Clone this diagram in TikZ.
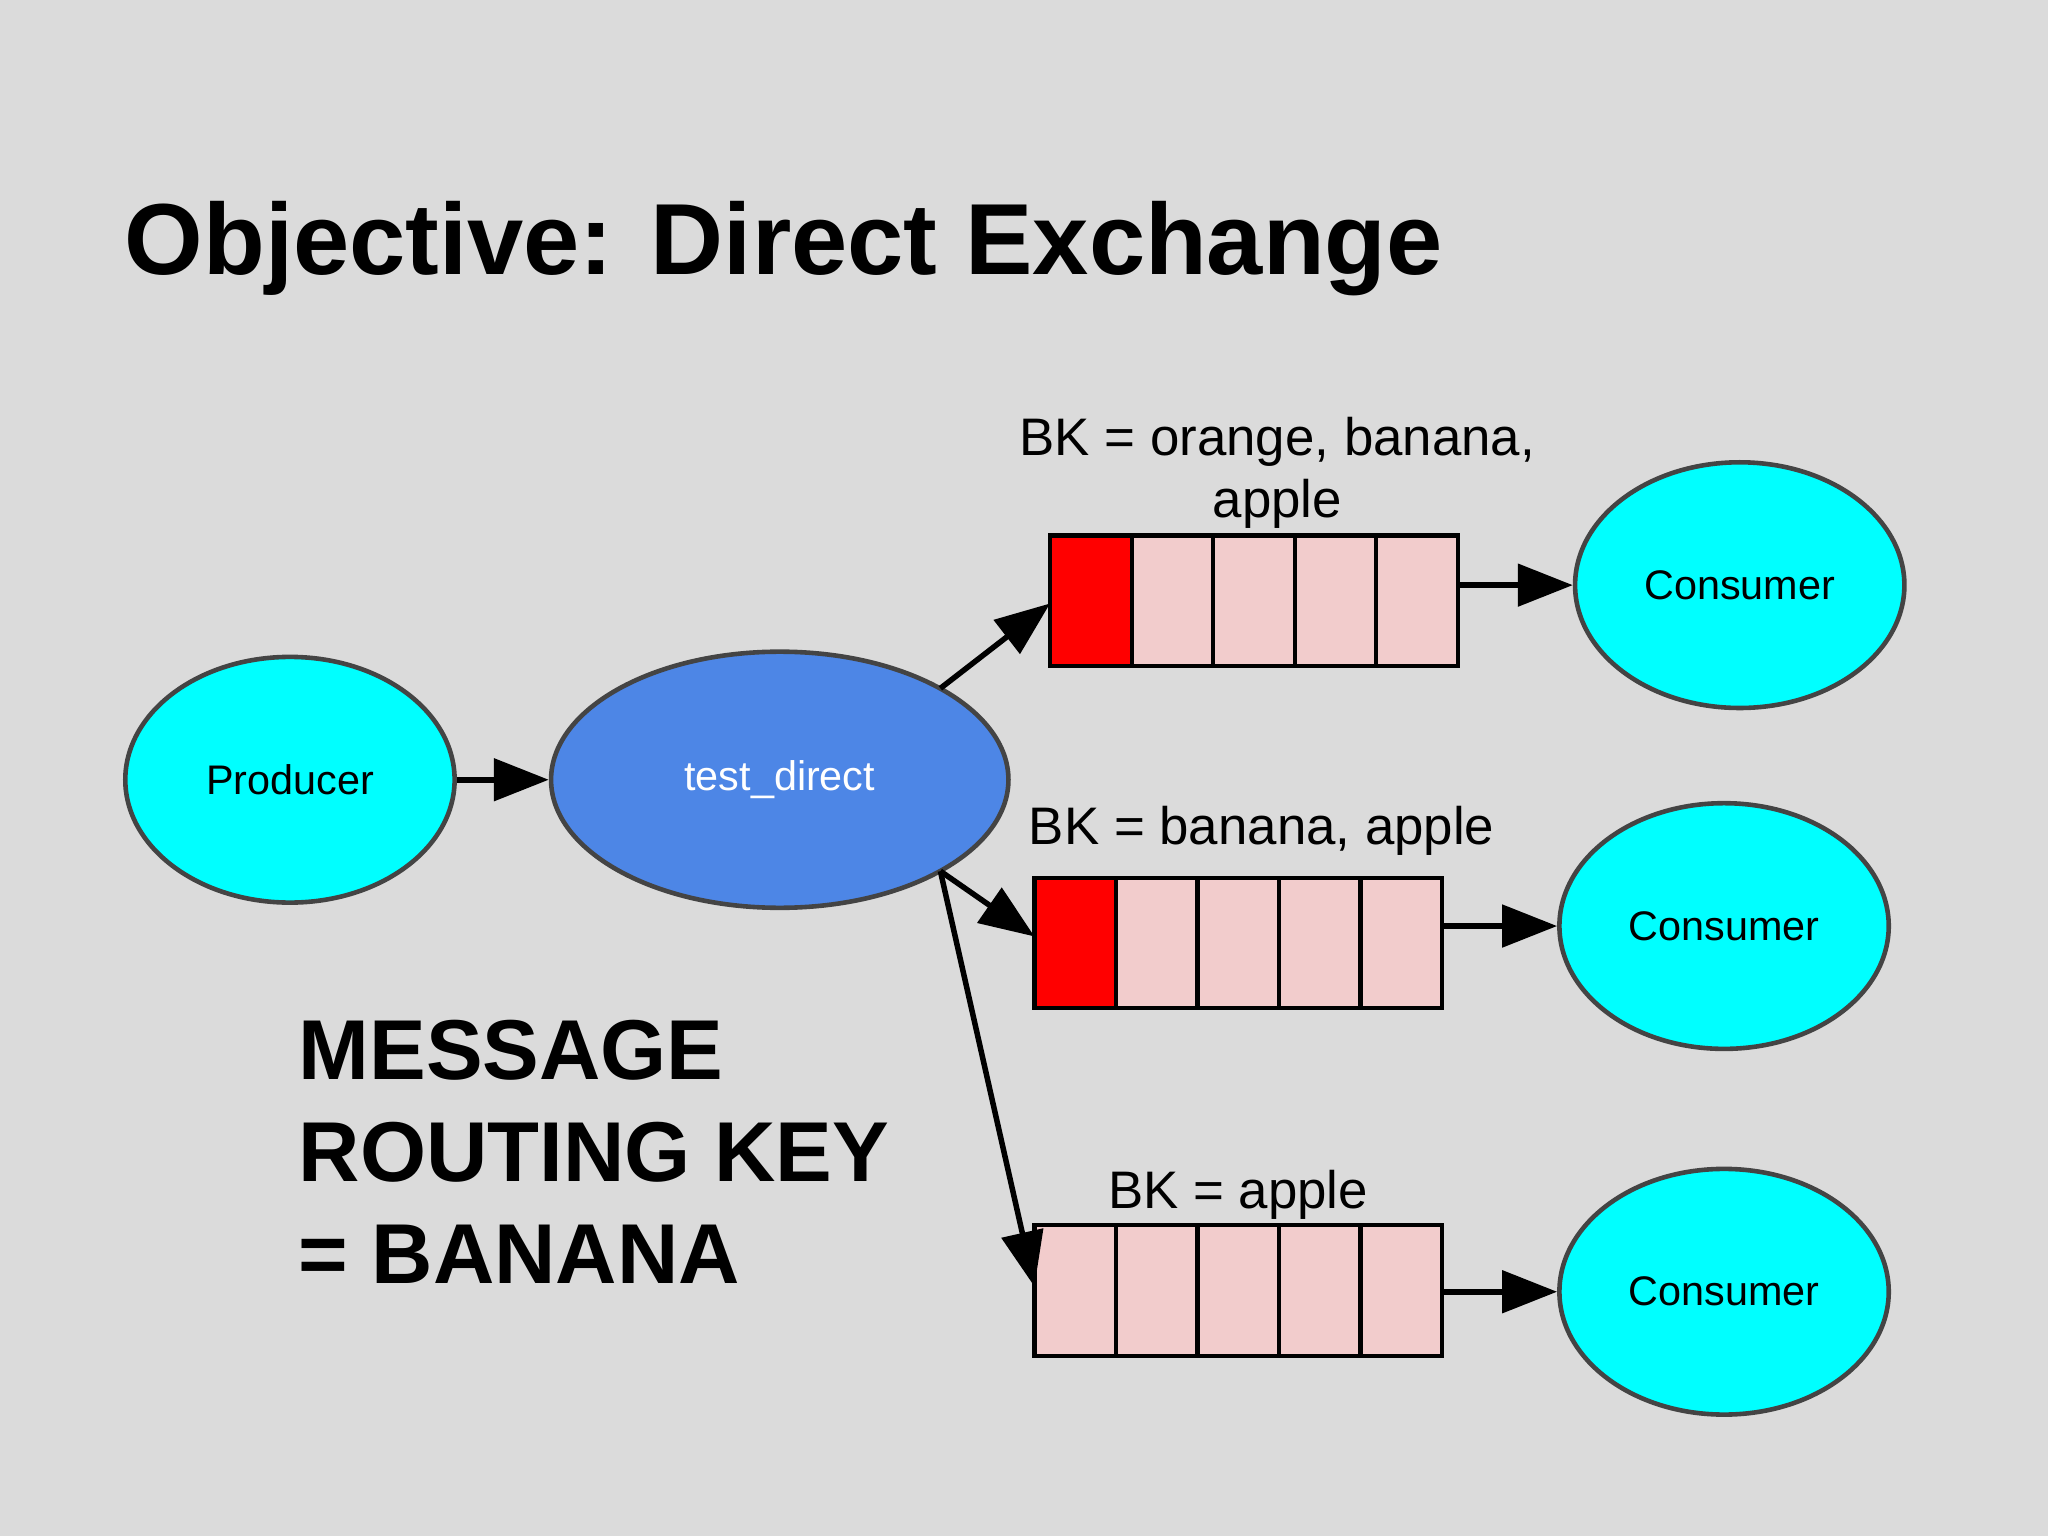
\documentclass[tikz,border=0pt]{standalone}
\usepackage{fontspec}
\setmainfont{Liberation Sans}
\usetikzlibrary{arrows.meta,shapes.geometric}
\definecolor{bg}{RGB}{219,219,219}
\definecolor{pinkc}{RGB}{242,204,204}
\definecolor{exch}{RGB}{77,134,230}
\definecolor{edge}{RGB}{68,68,68}
\definecolor{cyn}{RGB}{0,255,255}
\begin{document}
\begin{tikzpicture}[x=0.01cm,y=-0.01cm,
  ell/.style={draw=edge,line width=1pt,ellipse,fill=cyn,minimum width=2.52cm,minimum height=1.88cm,inner sep=0,font=\fontsize{9}{11}\selectfont},
  arr/.style={line width=1.2pt,-{Triangle[length=0.42cm,width=0.32cm]}},
  cell/.style={draw=black,line width=0.9pt,fill=pinkc},
  lbl/.style={font=\fontsize{11.5}{13.5}\selectfont,align=center}]
\fill[bg] (0,0) rectangle (1568,1176);
\node[anchor=base west,inner sep=0,font=\bfseries\fontsize{22}{26}\selectfont] (title) at (95,210) {Objective: Direct Exchange};
\node[anchor=north west,inner sep=0,font=\bfseries\fontsize{18.5}{22.3}\selectfont,align=left] (msg) at (228,780) {MESSAGE\\ROUTING KEY\\= BANANA};
\node[ell] (prod) at (222,597) {Producer};
\node[ell,fill=exch,minimum width=3.5cm,minimum height=1.96cm,text=white] (ex) at (597,597) {test\_direct};
\node[ell] (c1) at (1332,448) {Consumer};
\node[ell] (c2) at (1320,709) {Consumer};
\node[ell] (c3) at (1320,989) {Consumer};
% queues
\foreach \n/\x/\y/\r in {q1/804/410/1,q2/792/672/1,q3/792/938/0}{
  \foreach \i in {0,...,4}{
    \pgfmathsetmacro{\xa}{\x+62.4*\i}
    \ifnum\i=0 \ifnum\r=1
      \draw[cell,fill=red] (\xa,\y) rectangle ++(62.4,100);
    \else
      \draw[cell] (\xa,\y) rectangle ++(62.4,100);
    \fi\else
      \draw[cell] (\xa,\y) rectangle ++(62.4,100);
    \fi
  }
  \node[minimum width=3.12cm,minimum height=1cm,inner sep=0,outer sep=0] (\n) at (\x+156,\y+50) {};
}
\node[lbl] (l1) at (978,362) {BK = orange, banana,\\apple};
\node[lbl] (l2) at (966,636) {BK = banana, apple};
\node[lbl] (l3) at (948,915) {BK = apple};
\coordinate (e1) at (720,527);
\coordinate (e2) at (720,667);
\coordinate (t1) at (804,462);
\coordinate (t2) at (792,717);
\coordinate (t3) at (792,985);
\draw[arr] (prod) -- (ex);
\draw[arr] (e1) -- (t1);
\draw[arr] (e2) -- (t2);
\draw[arr] (e2) -- (t3);
\draw[arr] (q1.east |- c1.west) -- (c1.west);
\draw[arr] (q2.east |- c2.west) -- (c2.west);
\draw[arr] (q3.east |- c3.west) -- (c3.west);
\end{tikzpicture}
\end{document}
